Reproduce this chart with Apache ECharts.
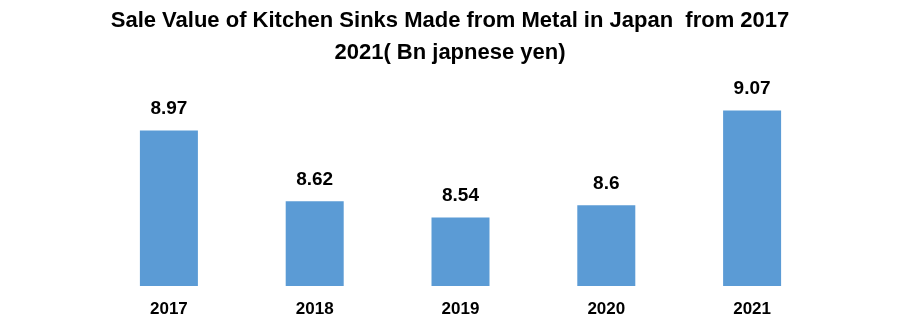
<!DOCTYPE html>
<html><head><meta charset="utf-8">
<script src="https://cdn.jsdelivr.net/npm/echarts@6/dist/echarts.min.js"></script>
<style>html,body{margin:0;padding:0;background:#fff}#c{width:900px;height:324px}</style>
</head><body><div id="c"></div>
<script>
const categories = ['2017', '2018', '2019', '2020', '2021'];
const values = [8.97, 8.62, 8.54, 8.6, 9.07];
const titleText = 'Sale Value of Kitchen Sinks Made from Metal in Japan  from 2017\n2021( Bn japnese yen)';

const chart = echarts.init(document.getElementById('c'), null, {renderer: 'canvas'});
chart.setOption({
  animation: false,
  backgroundColor: '#fff',
  title: {
    text: titleText,
    left: 'center',
    top: 0,
    textStyle: {fontFamily: 'Liberation Sans', fontWeight: 'bold', fontSize: 22, color: '#000', lineHeight: 32}
  },
  grid: {left: 96, right: 75, top: 64, bottom: 38},
  xAxis: {
    type: 'category',
    data: categories,
    axisLine: {show: false},
    axisTick: {show: false},
    axisLabel: {fontFamily: 'Liberation Sans', fontWeight: 'bold', fontSize: 17, color: '#000', margin: 15}
  },
  yAxis: {
    type: 'value', min: 8.2, max: 9.3,
    show: false,
    splitLine: {show: false}
  },
  series: [{
    type: 'bar',
    data: values,
    barWidth: 58,
    itemStyle: {color: '#5b9bd5'},
    label: {show: true, position: 'top', distance: 12, fontFamily: 'Liberation Sans', fontWeight: 'bold', fontSize: 19, color: '#000'}
  }]
});
</script></body></html>
